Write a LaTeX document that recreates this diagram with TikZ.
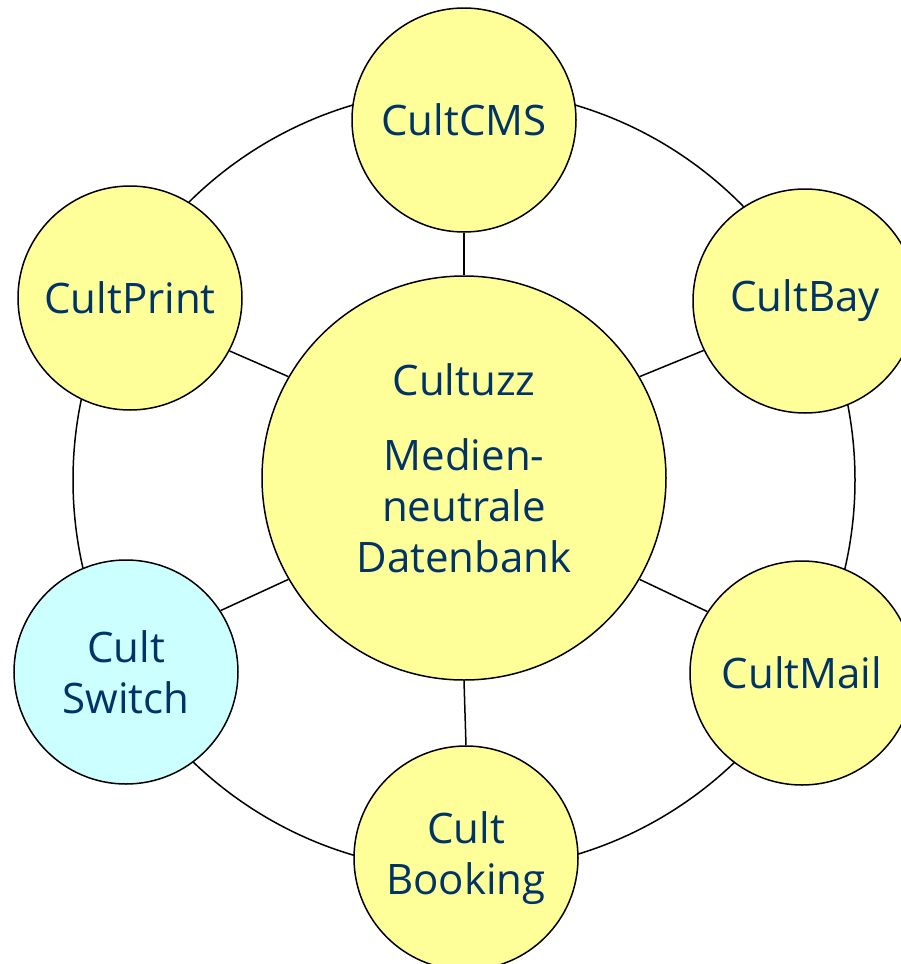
\documentclass[tikz,border=0pt]{standalone}
\usepackage{fontspec}
\setmainfont{Open Sans}
\definecolor{cultyellow}{HTML}{FFFF99}
\definecolor{cultcyan}{HTML}{CCFFFF}
\definecolor{cultblue}{HTML}{003366}
\begin{document}
\begin{tikzpicture}[x=1pt,y=-1pt,line width=1.5pt]

      \useasboundingbox (0,0) rectangle (900,964);

      % outer ring behind the circles
      \draw (464,480) circle [radius=391pt];

      \begin{scope}[every node/.style={circle,draw,fill=cultyellow,inner sep=0pt,
          minimum size=224pt,align=center,text=cultblue,
          font=\fontsize{42}{51}\selectfont}]
        \node (hub)     at (464,478) [minimum size=404pt]
          {Cultuzz\\[24pt]Medien-\\neutrale\\Datenbank\rule[-20pt]{0pt}{0pt}};
        \node (cms)     at (464,120) {CultCMS};
        \node (bay)     at (805,301) {CultBay};
        \node (mail)    at (802,673) {CultMail};
        \node (booking) at (466,858) {Cult\\Booking\rule[-2pt]{0pt}{0pt}};
        \node (switch)  at (126,672) [fill=cultcyan] {Cult\\Switch};
        \node (print)   at (130,298) {CultPrint};
      \end{scope}

      \begin{scope}[every edge/.style={draw}]
        \path (hub.90)  edge (cms.270);
        \path (hub.30)  edge (bay.206);
        \path (hub.330) edge (mail.147);
        \path (hub.270) edge (booking.90);
        \path (hub.210) edge (switch.33);
        \path (hub.150) edge (print.332);
      \end{scope}

    \end{tikzpicture}
\end{document}
